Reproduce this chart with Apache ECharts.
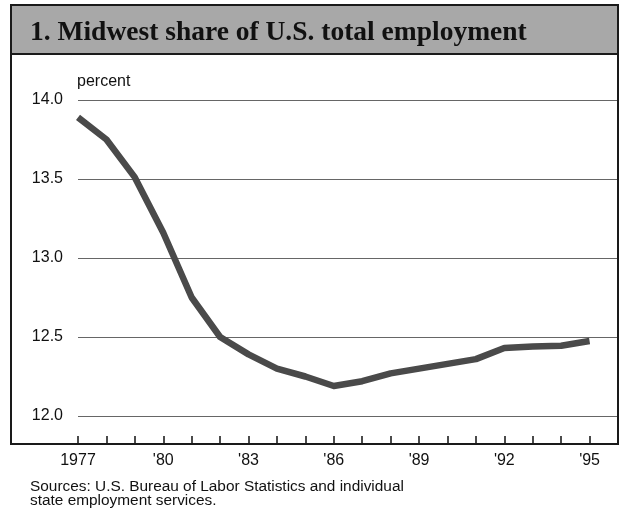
<!DOCTYPE html>
<html>
<head>
<meta charset="utf-8">
<script src="https://cdn.jsdelivr.net/npm/echarts@6/dist/echarts.min.js"></script>
<style>html,body{margin:0;padding:0;background:#fff;}#c{width:622px;height:511px;}</style>
</head>
<body>
<div id="c"></div>
<script>
const years = [1977,1978,1979,1980,1981,1982,1983,1984,1985,1986,1987,1988,1989,1990,1991,1992,1993,1994,1995];
const share = [13.89,13.75,13.51,13.16,12.75,12.50,12.39,12.30,12.25,12.19,12.22,12.27,12.30,12.33,12.36,12.43,12.44,12.445,12.475];
const xTickLabels = [[1977,'1977'],[1980,"'80"],[1983,"'83"],[1986,"'86"],[1989,"'89"],[1992,"'92"],[1995,"'95"]];
const yTickValues = [12.0,12.5,13.0,13.5,14.0];
const titleText = '1. Midwest share of U.S. total employment';
const unitText = 'percent';
const sourceText = 'Sources: U.S. Bureau of Labor Statistics and individual\nstate employment services.';

const labelMap = {};
xTickLabels.forEach(([v,l]) => labelMap[v] = l);

const chart = echarts.init(document.getElementById('c'), null, {renderer:'canvas'});
chart.setOption({
  animation: false,
  backgroundColor: '#fff',
  grid: {left: 78, right: 4, top: 100, bottom: 95, containLabel: false},
  xAxis: {
    type: 'value', min: 1977, max: 1996, interval: 1, offset: 28,
    axisLine: {show: true, lineStyle: {color: '#111', width: 2}},
    axisTick: {show: true, inside: true, length: 8, lineStyle: {color: '#111', width: 1.5}},
    splitLine: {show: false},
    axisLabel: {
      margin: 9, color: '#111', fontSize: 16, fontFamily: 'Liberation Sans, Arial, sans-serif',
      formatter: v => labelMap[v] || ''
    }
  },
  yAxis: {
    type: 'value', min: 12, max: 14, interval: 0.5,
    axisLine: {show: false}, axisTick: {show: false},
    splitLine: {show: true, lineStyle: {color: '#666', width: 1}},
    axisLabel: {
      margin: 15, color: '#111', fontSize: 16, fontFamily: 'Liberation Sans, Arial, sans-serif',
      formatter: v => yTickValues.indexOf(v) >= 0 ? v.toFixed(1) : ''
    }
  },
  series: [{
    type: 'line',
    data: years.map((y,i) => [y, share[i]]),
    showSymbol: false, symbol: 'none',
    lineStyle: {color: '#4a4a4a', width: 6.5, cap: 'butt', join: 'round'},
    z: 3
  }],
  graphic: [
    {type: 'rect', shape: {x: 11, y: 5, width: 607, height: 439}, style: {fill: 'none', stroke: '#1a1a1a', lineWidth: 2}, z: 10},
    {type: 'rect', shape: {x: 11, y: 5, width: 607, height: 49}, style: {fill: '#a8a8a8', stroke: '#1a1a1a', lineWidth: 2}, z: 9},
    {type: 'text', left: 30, top: 19, style: {text: titleText, fill: '#111', font: 'bold 27.5px "Liberation Serif", "Times New Roman", serif'}, z: 11},
    {type: 'text', left: 77, top: 74, style: {text: unitText, fill: '#111', font: '16px "Liberation Sans", Arial, sans-serif'}, z: 11},
    {type: 'text', left: 30, top: 479, style: {text: sourceText, fill: '#111', font: '15.4px "Liberation Sans", Arial, sans-serif', lineHeight: 14.5}, z: 11}
  ]
});
</script>
</body>
</html>
